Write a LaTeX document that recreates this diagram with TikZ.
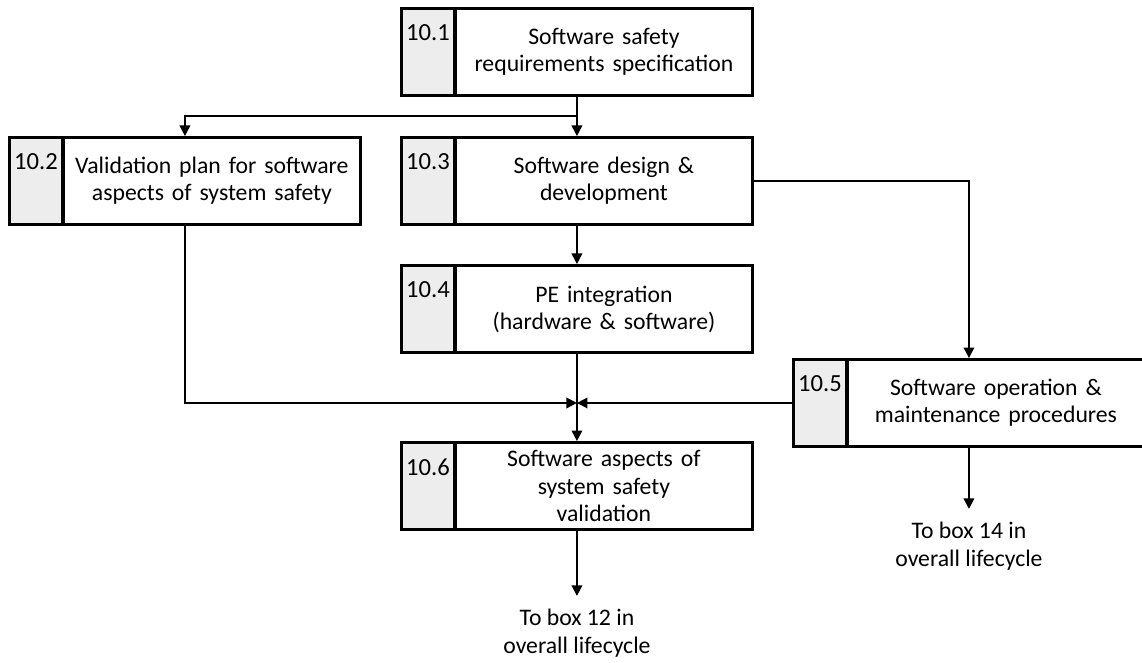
\documentclass[tikz,border=0pt]{standalone}
\usepackage{fontspec}
\setmainfont{Carlito}
\usetikzlibrary{arrows.meta,positioning,fit}
\definecolor{tabgray}{RGB}{237,237,237}

\begin{document}
\begin{tikzpicture}[>={Triangle[length=6pt,width=6pt]}, line width=1.1pt,
        every node/.style={font=\fontsize{13.5}{15.4}\selectfont},
        tab/.style={draw, fill=tabgray, anchor=north west, minimum width=1.04cm,
            minimum height=1.72cm, inner sep=0pt},
        body/.style={draw, minimum width=5.92cm, minimum height=1.72cm,
            text width=5.8cm, align=center, inner sep=0pt},
        stage/.style={draw, inner sep=0pt},
        num/.style={anchor=center, yshift=-0.5cm, inner sep=0pt,
            font=\fontsize{14}{15}\selectfont},
        note/.style={align=center, inner sep=7pt, font=\fontsize{13.5}{16}\selectfont}]
    \useasboundingbox (0,0) rectangle (22.84,-13.24);

    % numbered boxes
    \node[tab, label={[num]north:10.1}] (t1) at (8.02,-0.16) {};
    \node[body, right=0pt of t1] (b1) {Software safety\\requirements specification};
    \node[stage, fit=(t1)(b1)] (s1) {};

    \node[tab, label={[num]north:10.2}] (t2) at (0.18,-2.74) {};
    \node[body, right=0pt of t2] (b2) {Validation plan for software\\aspects of system safety};
    \node[stage, fit=(t2)(b2)] (s2) {};

    \node[tab, label={[num]north:10.3}] (t3) at (8.02,-2.74) {};
    \node[body, right=0pt of t3] (b3) {Software design \&\\development};
    \node[stage, fit=(t3)(b3)] (s3) {};

    \node[tab, label={[num]north:10.4}] (t4) at (8.02,-5.30) {};
    \node[body, right=0pt of t4] (b4) {PE integration\\(hardware \& software)};
    \node[stage, fit=(t4)(b4)] (s4) {};

    \node[tab, label={[num]north:10.5}] (t5) at (15.86,-7.18) {};
    \node[body, right=0pt of t5] (b5) {Software operation \&\\maintenance procedures};
    \node[stage, fit=(t5)(b5)] (s5) {};

    \node[tab, label={[num]north:10.6}] (t6) at (8.02,-8.84) {};
    \node[body, right=0pt of t6] (b6) {Software aspects of\\system safety\\validation};
    \node[stage, fit=(t6)(b6)] (s6) {};

    % outputs
    \node[note, below=1.3cm of s6] (to12) {To box 12 in\\overall lifecycle};
    \node[note, below=1.22cm of s5] (to14) {To box 14 in\\overall lifecycle};

    \coordinate[below=0.38cm of s1] (split);
    \coordinate (join) at (s4.south |- s5.west);

    % connectors
    \draw (s1.south) -- (split);
    \draw[->] (split) -- (s3.north);
    \draw[->] (split) -| (s2.north);
    \draw[->] (s3.east) -| (s5.north);
    \draw[->] (s3.south) -- (s4.north);
    \draw[->] (s2.south) |- (join);
    \draw[->] (s5.west) -- (join);
    \draw[->] (s4.south) -- (s6.north);
    \draw[->] (s6.south) -- (to12.north);
    \draw[->] (s5.south) -- (to14.north);
\end{tikzpicture}
\end{document}
